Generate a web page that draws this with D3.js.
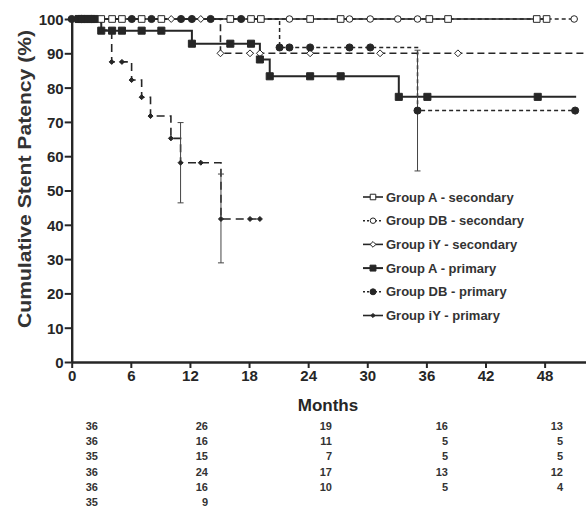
<!DOCTYPE html>
<html><head><meta charset="utf-8">
<script src="https://cdn.jsdelivr.net/npm/d3@7/dist/d3.min.js"></script>
<style>body{margin:0;background:#fff}svg{display:block}text{font-family:"Liberation Sans",Arial,sans-serif}</style>
</head><body><svg id="c" width="586" height="508"></svg>
<script>
// ---------------- data ----------------
const xTicks = [0, 6, 12, 18, 24, 30, 36, 42, 48];
const yTicks = [0, 10, 20, 30, 40, 50, 60, 70, 80, 90, 100];

const seriesNames = ["Group A - secondary", "Group DB - secondary", "Group iY - secondary",
                     "Group A - primary", "Group DB - primary", "Group iY - primary"];

// Kaplan-Meier steps (time in months, patency %)
const aSecT = [0, 48.2];
const aSecS = [100, 100];
const aSecCens = [3.0, 4.1, 5.1, 7.1, 9.1, 16.1, 18.2, 19.2, 24.2, 27.3, 36.3, 38.2, 47.2, 48.2];

const dbSecT = [0, 51.0];
const dbSecS = [100, 100];
const dbSecCens = [22.1, 28.2, 30.3, 33.1, 35.1, 51.0];

const iySecT = [0, 15.1, 52.2];
const iySecS = [100, 90, 90];
const iySecCens = [10.1, 13.1, 15.1, 18.1, 19.1, 24.2, 31.3, 39.2];

const aPrimT = [0, 3.0, 12.2, 19.1, 20.1, 33.2, 51.2];
const aPrimS = [100, 96.6, 92.8, 88.2, 83.3, 77.3, 77.3];
const aPrimCens = [0.7, 1.0, 1.3, 1.6, 2.0, 2.3, 3.0, 4.1, 5.1, 7.1, 9.1, 12.2, 16.1, 18.2, 19.1, 20.1, 24.2, 27.3, 33.2, 36.1, 47.3];

const dbPrimT = [0, 21.1, 35.1, 51.1];
const dbPrimS = [100, 91.7, 73.3, 73.3];
const dbPrimCens = [0, 1.0, 2.0, 6.1, 8.1, 11.1, 12.2, 14.1, 17.2, 21.1, 22.1, 24.2, 28.2, 30.3, 35.1, 51.1];
const dbPrimErrT = [35.1];
const dbPrimErrLo = [55.7];
const dbPrimErrHi = [90.9];

const iyPrimT = [0, 3.0, 4.06, 6.08, 7.1, 8.0, 10.07, 11.05, 15.15, 19.3];
const iyPrimS = [100, 96.8, 87.5, 82.2, 77.2, 71.7, 65.2, 58.1, 41.7, 41.7];
const iyPrimCens = [0.4, 1.5, 3.0, 4.06, 5.1, 6.08, 7.1, 8.0, 10.07, 11.05, 13.1, 15.15, 18.1, 19.1];
const iyPrimErrT = [11.05, 15.15];
const iyPrimErrLo = [46.4, 28.9];
const iyPrimErrHi = [69.8, 54.8];

// numbers at risk (rows in legend order)
const riskRows = [
  ["36", "26", "19", "16", "13"],
  ["36", "16", "11", "5", "5"],
  ["35", "15", "7", "5", "5"],
  ["36", "24", "17", "13", "12"],
  ["36", "16", "10", "5", "4"],
  ["35", "9"]
];

// ---------------- layout ----------------
const svg = d3.select("#c");
const ink = "#262626";
const x = d3.scaleLinear().domain([0, 52.2]).range([71.7, 586]);
const y = d3.scaleLinear().domain([0, 100]).range([362, 19]);

const diamond = { draw(ctx, size) { const r = Math.sqrt(size) / 2 * 1.25; ctx.moveTo(0, -r); ctx.lineTo(r, 0); ctx.lineTo(0, r); ctx.lineTo(-r, 0); ctx.closePath(); } };

const styles = [
  { t: aSecT, s: aSecS, c: aSecCens, dash: null, legDash: null, w: 1.6, sym: d3.symbolSquare, size: 44, fill: "#fff" },
  { t: dbSecT, s: dbSecS, c: dbSecCens, dash: "4,3", legDash: "2,2", w: 1.5, sym: d3.symbolCircle, size: 34, fill: "#fff" },
  { t: iySecT, s: iySecS, c: iySecCens, dash: "7,4", legDash: null, w: 1.6, sym: diamond, size: 30, fill: "#fff" },
  { t: aPrimT, s: aPrimS, c: aPrimCens, dash: null, legDash: null, w: 2, sym: d3.symbolSquare, size: 50, fill: ink },
  { t: dbPrimT, s: dbPrimS, c: dbPrimCens, dash: "4,3", legDash: "2,2", w: 1.5, sym: d3.symbolCircle, size: 40, fill: ink,
    eT: dbPrimErrT, eLo: dbPrimErrLo, eHi: dbPrimErrHi },
  { t: iyPrimT, s: iyPrimS, c: iyPrimCens, dash: "8,5", legDash: null, w: 1.6, sym: diamond, size: 16, fill: ink,
    eT: iyPrimErrT, eLo: iyPrimErrLo, eHi: iyPrimErrHi }
];

function survAt(st, t) {
  let v = st.s[0];
  for (let i = 0; i < st.t.length; i++) if (st.t[i] <= t + 1e-9) v = st.s[i];
  return v;
}

// axes
const yAxis = d3.axisLeft(y).tickValues(yTicks).tickSize(7).tickSizeOuter(0);
const gy = svg.append("g").attr("transform", `translate(${x(0)},0)`).call(yAxis);
const xAxis = d3.axisBottom(x).tickValues(xTicks).tickSize(6).tickSizeOuter(0);
const gx = svg.append("g").attr("transform", `translate(0,${y(0)})`).call(xAxis);
[gx, gy].forEach(g => {
  g.select(".domain").attr("stroke", ink).attr("stroke-width", 2.4);
  g.selectAll(".tick line").attr("stroke", ink).attr("stroke-width", 2);
  g.selectAll(".tick text").attr("fill", ink).attr("font-size", 15).attr("font-weight", "bold")
    .attr("font-family", "Liberation Sans, Arial, sans-serif");
});
gy.selectAll(".tick text").attr("x", -8).attr("dy", "0.36em");
gx.selectAll(".tick text").attr("y", 8).attr("dy", "0.75em");

// step lines
const line = d3.line().x(d => x(d[0])).y(d => y(d[1])).curve(d3.curveStepAfter);
styles.forEach(st => {
  svg.append("path").datum(st.t.map((t, i) => [t, st.s[i]]))
    .attr("d", line).attr("fill", "none").attr("stroke", ink)
    .attr("stroke-width", st.w).attr("stroke-dasharray", st.dash);
});

// error bars
styles.forEach(st => {
  if (!st.eT) return;
  st.eT.forEach((t, i) => {
    const g = svg.append("g").attr("stroke", "#444").attr("stroke-width", 1);
    g.append("line").attr("x1", x(t)).attr("x2", x(t)).attr("y1", y(st.eLo[i])).attr("y2", y(st.eHi[i]));
    [st.eLo[i], st.eHi[i]].forEach(v => g.append("line").attr("x1", x(t) - 3).attr("x2", x(t) + 3).attr("y1", y(v)).attr("y2", y(v)));
  });
});

// markers
styles.forEach(st => {
  svg.append("g").selectAll("path").data(st.c).join("path")
    .attr("transform", t => `translate(${x(t)},${y(survAt(st, t))})`)
    .attr("d", d3.symbol(st.sym, st.size))
    .attr("fill", st.fill).attr("stroke", ink).attr("stroke-width", 1);
});

// axis titles
svg.append("text").attr("x", 328).attr("y", 411).attr("text-anchor", "middle")
  .attr("font-size", 17).attr("font-weight", "bold").attr("fill", ink).text("Months");
svg.append("text").attr("transform", "translate(31,179) rotate(-90)").attr("text-anchor", "middle")
  .attr("font-size", 19).attr("font-weight", "bold").attr("fill", "#333")
  .attr("textLength", 298).attr("lengthAdjust", "spacingAndGlyphs").text("Cumulative Stent Patency (%)");

// legend
const lg = svg.append("g");
styles.forEach((st, i) => {
  const cy = 197 + i * 23.7;
  lg.append("line").attr("x1", 363).attr("x2", 383).attr("y1", cy).attr("y2", cy)
    .attr("stroke", ink).attr("stroke-width", st.w).attr("stroke-dasharray", st.legDash);
  lg.append("path").attr("transform", `translate(373,${cy})`).attr("d", d3.symbol(st.sym, st.size * 0.7))
    .attr("fill", st.fill).attr("stroke", ink).attr("stroke-width", 1);
  lg.append("text").attr("x", 386).attr("y", cy + 4.5).attr("font-size", 13).attr("font-weight", "bold")
    .attr("fill", "#333").text(seriesNames[i]);
});

// numbers at risk table
const colRight = [98, 208, 332, 448, 563];
riskRows.forEach((row, r) => {
  row.forEach((v, c) => {
    svg.append("text").attr("x", colRight[c]).attr("y", 430 + r * 15.2).attr("text-anchor", "end")
      .attr("font-size", 11).attr("font-weight", "bold").attr("fill", "#333").text(v);
  });
});
</script></body></html>
